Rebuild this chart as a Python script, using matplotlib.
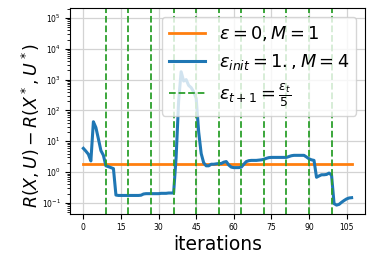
import numpy as np
import matplotlib
matplotlib.use('Agg')
import matplotlib.pyplot as plt
from matplotlib.ticker import MultipleLocator, LogLocator

# ── data ──────────────────────────────────────────────────────────────────────
iterations = np.arange(108)

baseline_value = 1.9   # eps = 0, M = 1

eps_decay = [
    5.9, 4.8, 3.8, 2.3, 43.0, 28.0, 12.0, 5.0, 3.5, 1.6,
    1.5, 1.4, 1.3, 0.18, 0.175, 0.175, 0.175, 0.175, 0.175, 0.175,
    0.175, 0.175, 0.175, 0.178, 0.195, 0.2, 0.2, 0.2, 0.2, 0.2,
    0.2, 0.205, 0.205, 0.205, 0.21, 0.21, 0.21, 3.0, 200.0, 1800.0,
    900.0, 1000.0, 650.0, 550.0, 400.0, 250.0, 20.0, 4.0, 2.0, 1.6,
    1.6, 1.8, 1.8, 1.85, 1.9, 1.9, 2.1, 2.2, 1.7, 1.45,
    1.4, 1.4, 1.4, 1.45, 1.8, 2.2, 2.35, 2.4, 2.4, 2.4,
    2.45, 2.5, 2.6, 2.8, 2.95, 3.0, 3.0, 3.0, 3.0, 3.0,
    3.0, 3.0, 3.2, 3.4, 3.5, 3.5, 3.5, 3.5, 3.5, 3.1,
    2.7, 2.5, 2.4, 0.68, 0.75, 0.82, 0.82, 0.84, 0.93, 0.8,
    0.095, 0.085, 0.09, 0.105, 0.12, 0.135, 0.145, 0.148,
]

eps_updates = [9, 18, 27, 36, 45, 54, 63, 72, 81, 90, 99]
y_ticks = [1e-1, 1e0, 1e1, 1e2, 1e3, 1e4, 1e5]

fig = plt.figure(figsize=(3.74, 2.59), dpi=100)
ax = fig.add_axes([0.187, 0.174, 0.789, 0.795])

ax.plot(iterations, [baseline_value] * len(iterations), color='#ff7f0e',
        lw=2.0, label=r'$\epsilon = 0, M = 1$')
ax.plot(iterations, eps_decay, color='#1f77b4', lw=2.2,
        label=r'$\epsilon_{init} = 1., M = 4$')
for k, it in enumerate(eps_updates):
    ax.axvline(it, color='#2ca02c', ls='--', lw=1.3,
               label=r'$\epsilon_{t+1} = \frac{\epsilon_t}{5}$' if k == 0 else None)

ax.set_yscale('log')
ax.set_ylim(0.044, 2.1e5)
ax.set_xlim(-5.35, 112.35)
ax.xaxis.set_major_locator(MultipleLocator(15))
ax.set_yticks(y_ticks)
ax.yaxis.set_minor_locator(LogLocator(base=10, subs=np.arange(2, 10), numticks=20))
ax.grid(True, color='#d3d3d3', lw=0.9)
ax.tick_params(labelsize=5.5, pad=3)

ax.set_xlabel('iterations', fontsize=13.5, labelpad=2)
ax.set_ylabel(r'$R(X, U) - R(X^*, U^*)$', fontsize=12.5)
ax.yaxis.set_label_coords(-0.095, 0.43)

ax.legend(loc='upper right', fontsize=12.8, handlelength=2.0)

plt.savefig('out.png', dpi=100)
plt.close()
